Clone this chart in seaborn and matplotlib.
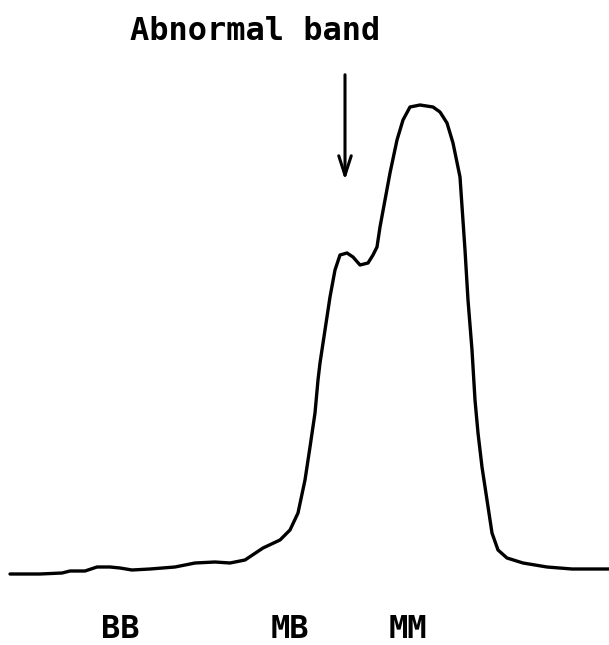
import matplotlib
matplotlib.use("Agg")
import matplotlib.pyplot as plt
import seaborn as sns

# densitometer trace (position along the strip, optical density)
position = [10, 40, 62, 70, 85, 97, 110, 120, 132, 150, 175, 195, 215, 230, 245, 263,
            280, 290, 298, 305, 310, 315, 318, 320, 325, 330, 335, 340, 347,
            353, 360, 368, 373, 377, 380, 385, 390, 397, 403, 410, 420, 433, 440,
            447, 453, 460, 465, 468, 472, 475, 478, 482, 487, 492, 498, 507,
            523, 547, 572, 609]
density = [71, 71, 72, 74, 74, 78, 78, 77, 75, 76, 78, 82, 83, 82, 85, 97,
           105, 115, 132, 165, 198, 232, 265, 282, 315, 348, 375, 390, 392,
           388, 380, 382, 390, 398, 418, 445, 472, 505, 525, 538, 540, 538, 533,
           522, 502, 468, 395, 345, 295, 245, 212, 178, 145, 112, 95, 87,
           82, 78, 76, 76]

bands = ["BB", "MB", "MM"]
band_pos = [120, 290, 408]

sns.set_style("white")
plt.rcParams['font.family'] = ['DejaVu Sans Mono', 'DejaVu Sans']

fig = plt.figure(figsize=(6.09, 6.45), dpi=100)
ax = fig.add_axes([0, 0, 1, 1])
sns.lineplot(x=position, y=density, color="black", linewidth=2.4, ax=ax)

for name, p in zip(bands, band_pos):
    ax.text(p, 15, name, ha="center", va="center", fontsize=23,
            fontweight="bold", color="black")

ax.text(255, 614, "Abnormal band", ha="center", va="center", fontsize=23,
        fontweight="bold", color="black")
ax.annotate("", xy=(345, 462), xytext=(345, 573),
            arrowprops=dict(arrowstyle="->,head_length=1.4,head_width=0.45",
                            lw=2.2, color="black"))

ax.set_xlim(0, 609)
ax.set_ylim(0, 645)
ax.axis("off")
fig.savefig("out.png", dpi=100)
